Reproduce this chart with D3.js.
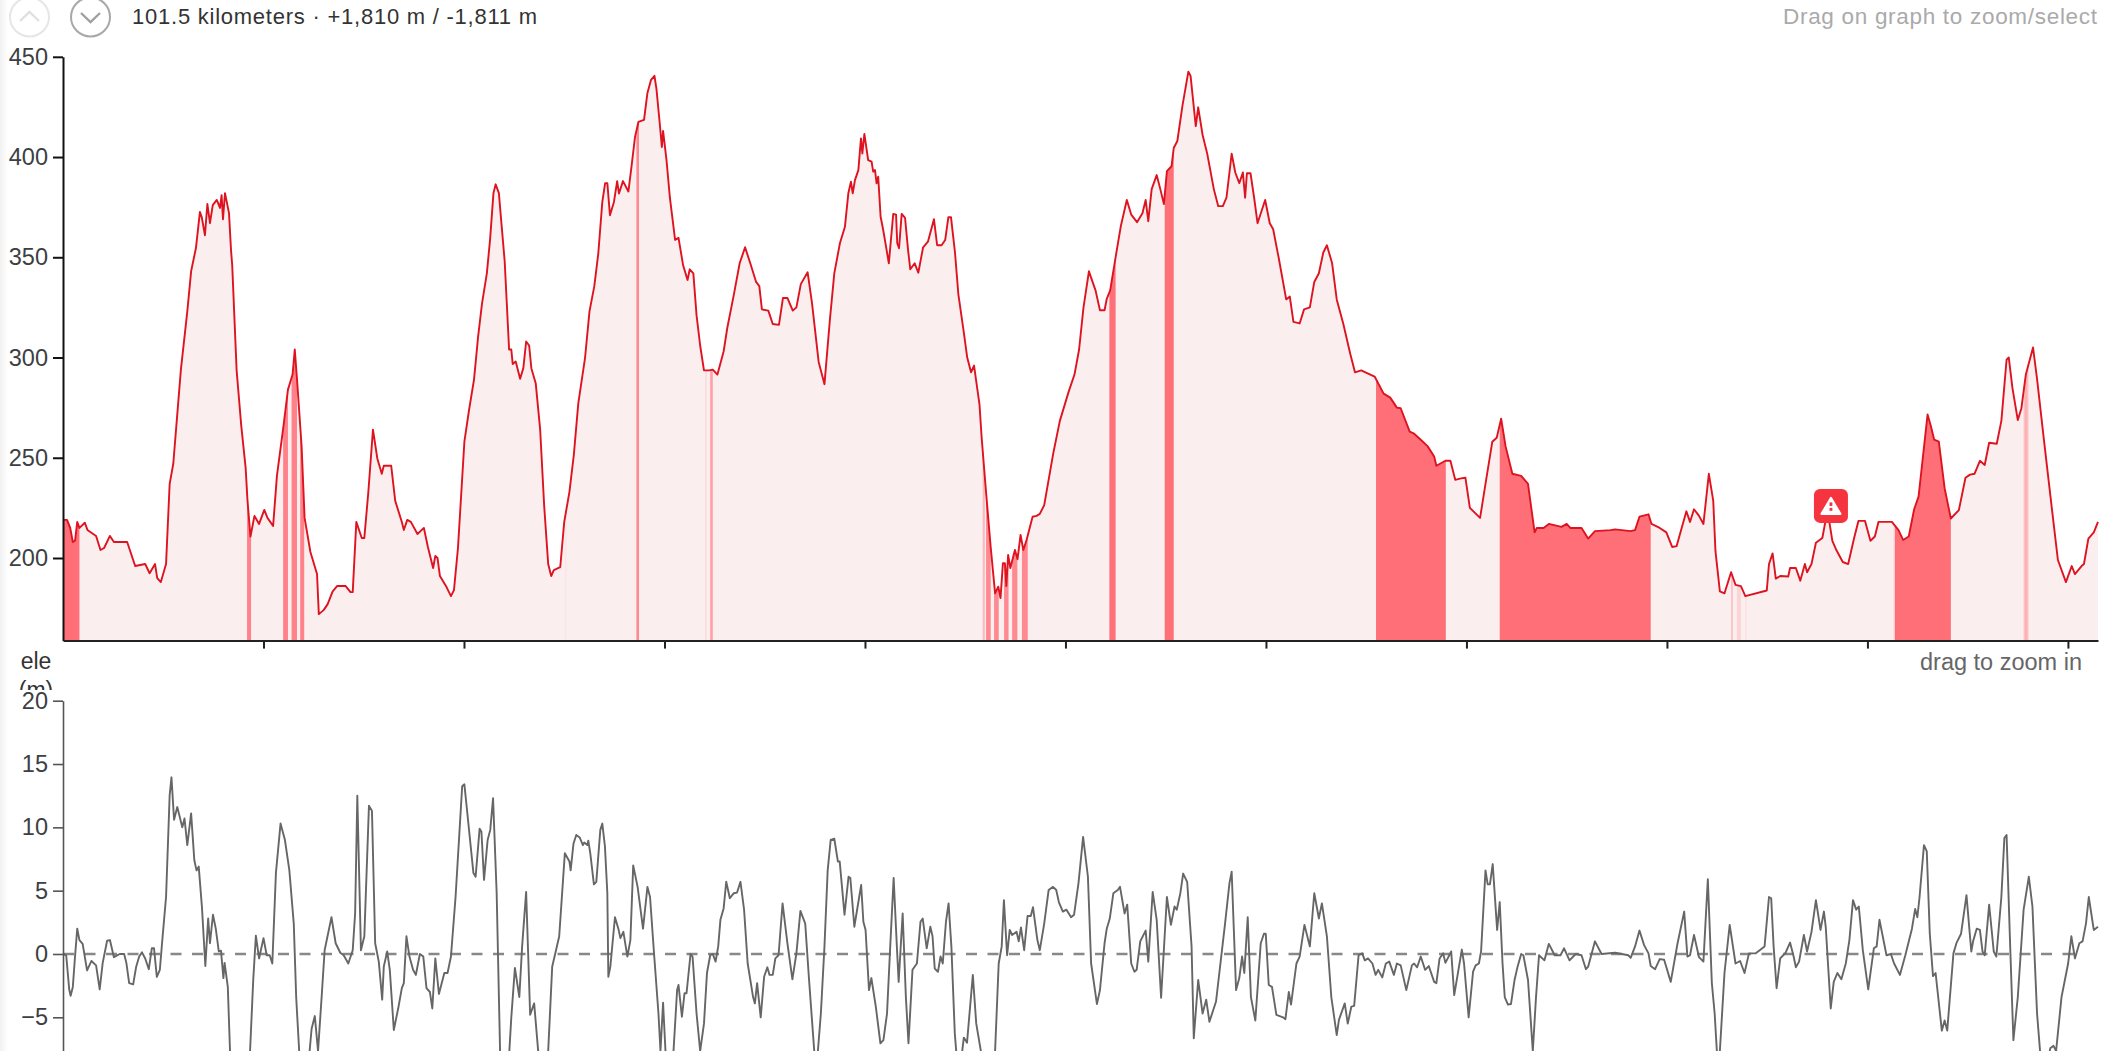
<!DOCTYPE html>
<html><head><meta charset="utf-8">
<script src="https://cdn.jsdelivr.net/npm/d3@7/dist/d3.min.js"></script>
<style>
html,body{margin:0;padding:0;background:#fff;overflow:hidden}
svg{display:block}
text{font-family:"Liberation Sans",Arial,sans-serif}
</style></head><body><svg id="c" width="2102" height="1051"></svg>
<script>
const summaryText="101.5 kilometers · +1,810 m / -1,811 m";
const hintText="Drag on graph to zoom/select";
const brushText="drag to zoom in";
const elevTicks=[200,250,300,350,400,450];
const gradeTicks=[-5,0,5,10,15,20];
const kmTicks=[10,20,30,40,50,60,70,80,90,100];
const totalKm=101.5;
// [km, metres]
const elevation=[[0,219],[.2,219],[.36,215],[.49,208],[.6,208.6],[.71,218],[.82,215],[1.09,217.6],[1.22,214],[1.65,211],[1.87,204],[2.05,205],[2.34,211],[2.54,208],[3.2,208],[3.6,196],[4.1,197],[4.32,192.4],[4.59,197],[4.7,190],[4.88,188],[5.14,197],[5.32,237],[5.5,247],[5.88,294],[6.2,323],[6.39,343],[6.63,354.6],[6.83,372.6],[6.92,370],[7.08,361],[7.2,376.6],[7.33,367],[7.47,376],[7.67,378.6],[7.83,374.6],[7.91,381],[7.98,369],[8.08,382],[8.28,372],[8.38,353.6],[8.44,346],[8.66,293.6],[8.89,266],[9.11,245],[9.2,229],[9.35,210.7],[9.55,221],[9.78,217],[10.04,224],[10.2,220],[10.48,216],[10.67,241],[11,266],[11.22,284],[11.45,291.5],[11.56,304],[11.67,289.4],[11.9,255.8],[12.05,220],[12.34,203],[12.67,192],[12.76,172],[13,174],[13.2,177],[13.45,183.4],[13.67,186],[14.1,186],[14.34,183],[14.45,183],[14.63,218],[14.9,210],[15.03,210],[15.23,233],[15.46,264],[15.68,249.5],[15.9,242],[16,246],[16.37,246],[16.57,228.5],[16.9,218],[17,214],[17.17,219],[17.35,218],[17.68,212],[18,215],[18.2,205.5],[18.46,195],[18.57,201],[18.68,200],[18.8,191],[19.13,185.5],[19.35,181],[19.5,184],[19.7,205],[20.02,258],[20.25,273.7],[20.5,289],[20.7,310],[20.9,327],[21.14,342],[21.3,358.7],[21.47,382],[21.58,386.4],[21.74,382],[21.85,369],[22.03,348],[22.25,304],[22.36,304],[22.43,296.8],[22.58,298],[22.8,289.4],[22.96,294.7],[23.1,308],[23.25,306],[23.36,294.7],[23.58,287],[23.8,264],[24,226],[24.2,197],[24.35,191],[24.48,194],[24.8,195.4],[25,218],[25.26,233],[25.48,251.6],[25.7,277],[26.04,300],[26.26,323],[26.5,335.6],[26.7,352],[26.9,377.6],[27.04,387],[27.15,387],[27.28,371],[27.48,377.6],[27.64,388],[27.73,381.8],[27.93,388],[28.2,382.8],[28.37,396.5],[28.53,410],[28.7,417.5],[28.98,418.5],[29.15,432],[29.33,438.5],[29.5,440.5],[29.6,434],[29.78,415],[29.87,405],[29.93,413],[30.1,398.6],[30.27,379.7],[30.53,358.7],[30.7,359.7],[30.93,346],[31.15,338.7],[31.26,344],[31.44,342],[31.6,321],[31.78,306],[31.97,293.6],[32.24,293.6],[32.41,294],[32.64,291.5],[32.95,303],[33.13,314.6],[33.46,331.4],[33.75,347],[34.02,355],[34.28,347],[34.57,337.7],[34.73,335.6],[34.86,324],[35.18,323.4],[35.4,316.7],[35.71,316.3],[35.91,329.7],[36.13,329.7],[36.4,323.4],[36.58,325],[36.8,336.6],[37.14,342.5],[37.36,327],[37.69,297.8],[37.98,286.7],[38.25,318.8],[38.47,342],[38.75,357],[39,365.2],[39.17,381.9],[39.3,387.7],[39.39,381.9],[39.5,388.5],[39.67,393.5],[39.8,409.3],[39.87,401.8],[39.97,411.5],[40.16,398.5],[40.33,397.7],[40.41,392.7],[40.5,393.5],[40.58,386.9],[40.66,390.2],[40.78,370.2],[40.91,363.6],[41.08,353.6],[41.19,347],[41.41,371.6],[41.55,371.3],[41.61,357],[41.7,354.5],[41.83,371.6],[42,369.6],[42.15,353.6],[42.26,344],[42.48,347],[42.66,342.3],[42.9,355],[43.14,357.8],[43.44,369],[43.6,356],[43.82,356],[44,358.6],[44.16,370],[44.29,370],[44.49,352.4],[44.66,331.4],[44.93,312.5],[45.1,300],[45.29,292.6],[45.44,296],[45.71,276.8],[45.82,260],[46.04,232.7],[46.27,205.5],[46.49,182.4],[46.65,185.7],[46.76,180],[46.88,197.4],[46.98,197.4],[47.05,186],[47.14,201.5],[47.25,195],[47.48,204],[47.61,199.4],[47.76,211.5],[47.9,204],[48.06,209],[48.36,220.6],[48.56,221],[48.72,222],[48.94,226.4],[49.38,251.6],[49.72,268.4],[50.16,283],[50.45,291.5],[50.68,304],[50.9,325],[51.17,343],[51.5,333.5],[51.72,323.6],[51.95,323.6],[52.06,329.3],[52.23,333.5],[52.5,350],[52.77,366],[53.06,378.6],[53.28,371.3],[53.57,367.5],[53.84,372],[54,378.6],[54.13,368],[54.3,384],[54.55,391],[54.73,384],[54.91,376.5],[55.06,393],[55.29,395.4],[55.4,404.5],[55.58,408],[55.84,425.9],[56.13,442.6],[56.24,440.5],[56.5,415.4],[56.62,424.8],[56.84,411],[57.07,401.7],[57.4,384],[57.62,375.5],[57.85,375.5],[58.03,379.7],[58.29,401.7],[58.47,392.3],[58.67,387],[58.85,392.3],[58.96,379.7],[59.05,391.9],[59.23,391.9],[59.41,379.7],[59.58,367],[59.96,378.6],[60.19,367],[60.36,364],[60.63,350],[61.01,329],[61.19,330.4],[61.37,317.8],[61.68,317],[61.9,324],[62.19,325],[62.41,337.7],[62.64,342],[62.86,352.4],[63.04,356],[63.3,347],[63.53,329],[63.86,316.7],[64.2,302],[64.44,292.6],[64.75,293.6],[65.42,290.5],[65.87,282],[66.2,280],[66.53,275],[66.72,274.7],[67.17,263],[67.39,262],[67.72,259],[68.06,255.8],[68.39,250.6],[68.5,246],[68.95,248.5],[69.2,248.5],[69.44,239],[69.73,239.7],[69.95,240],[70.17,225],[70.68,220],[70.95,237],[71.29,258],[71.51,260],[71.73,269.5],[71.95,255.8],[72.29,242],[72.73,241],[73.07,237],[73.4,212.8],[73.51,215],[73.85,215],[74.11,217],[74.74,215.5],[75,217],[75.18,215],[75.74,215],[76.07,209.7],[76.41,213.4],[77.19,213.9],[77.41,214.3],[78.19,213.4],[78.41,213.9],[78.63,220.6],[79.08,221.8],[79.23,217],[79.64,215],[79.97,212.8],[80.26,205.5],[80.48,205.9],[80.97,223.3],[81.15,218],[81.35,224.3],[81.6,221],[81.82,217],[82.09,242],[82.31,228.5],[82.42,203.4],[82.64,183.4],[82.87,182.4],[83.2,192.9],[83.42,186.6],[83.69,186],[83.91,181],[84.98,183.8],[85.09,197],[85.27,202.3],[85.43,189.7],[85.65,191],[86.05,190.8],[86.14,195],[86.43,195],[86.65,188.7],[86.88,197],[86.99,192.9],[87.21,197],[87.43,207.6],[87.75,210],[87.9,218],[88.02,228],[88.1,218],[88.25,208.5],[88.43,204.4],[88.77,198],[89.04,197],[89.33,209.7],[89.55,218.5],[89.88,218.5],[90.15,208.6],[90.37,210.7],[90.55,218],[90.88,218],[91.22,218],[91.55,213.9],[91.78,209],[92.06,210.7],[92.33,224.3],[92.55,230.6],[92.78,251.6],[93,271.6],[93.16,266],[93.33,259],[93.56,258],[93.85,234.8],[94.16,219.7],[94.56,223.9],[94.89,240],[95.12,241.6],[95.34,242],[95.61,248.5],[95.85,246.4],[96.07,257.5],[96.45,257],[96.68,268.4],[96.94,298.9],[97.05,300],[97.23,285],[97.5,268.8],[97.68,274.7],[97.9,291.5],[98.26,305],[98.46,289.4],[98.79,260],[99.13,230.6],[99.5,199],[99.9,188],[100.19,196],[100.35,192],[100.68,196],[100.8,197],[101.02,209.7],[101.29,212.8],[101.5,218]];
// [km, grade]
const grade=[[0,0],[.16,-.1],[.31,-2.8],[.38,-3.3],[.49,-2.6],[.6,-.2],[.71,2],[.82,1.1],[.98,.8],[1.2,-1.3],[1.42,-.55],[1.65,-.9],[1.83,-2.8],[1.98,-.7],[2.2,1.05],[2.34,1.1],[2.54,-.25],[2.83,0],[3.05,0],[3.16,-.7],[3.3,-2.3],[3.5,-2.4],[3.65,-1],[3.8,-.2],[3.94,.13],[4.1,-.35],[4.28,-1.2],[4.43,.45],[4.54,.45],[4.68,-1.8],[4.83,-1.25],[4.94,.85],[5.14,4.5],[5.32,12.55],[5.41,13.95],[5.54,10.6],[5.7,11.6],[5.95,10],[6.06,10.7],[6.2,8.6],[6.39,11.1],[6.55,7.4],[6.66,6.6],[6.77,6.9],[6.93,3.7],[7.1,-.95],[7.24,2.8],[7.33,.85],[7.48,3.1],[7.62,2],[7.77,.2],[7.88,.26],[8,-1.9],[8.06,-.7],[8.22,-2.6],[8.33,-7.66],[8.55,-12.6],[9.1,-12.6],[9.33,-7.66],[9.49,-2],[9.62,1.45],[9.78,-.35],[10,1.25],[10.16,-.1],[10.31,-.1],[10.44,-.75],[10.62,6.4],[10.85,10.3],[11.07,9],[11.29,6.6],[11.51,2.4],[11.63,-3.4],[11.78,-7.66],[12,-10],[12.3,-7.66],[12.4,-5.9],[12.56,-4.9],[12.72,-7.66],[12.9,-3.4],[13.05,.3],[13.39,2.9],[13.6,.85],[13.83,.1],[14,-.1],[14.23,-.75],[14.45,.3],[14.57,3.2],[14.68,12.5],[14.86,.3],[15.03,1.4],[15.26,11.7],[15.41,11.3],[15.57,.85],[15.75,-.6],[15.92,-3.6],[16,-1],[16.17,.2],[16.3,-1.25],[16.5,-6],[16.73,-4.2],[16.9,-2.7],[17,-2.3],[17.13,1.4],[17.28,-.2],[17.46,-1.25],[17.6,-1.65],[17.8,0],[17.97,-.2],[18.13,-2.7],[18.3,-3],[18.42,-4.3],[18.57,-.35],[18.75,-3.15],[19.02,-1.5],[19.18,-1.5],[19.35,-.2],[19.58,4.5],[19.91,13.25],[20.02,13.4],[20.2,10.6],[20.47,6.4],[20.58,6.1],[20.78,9.9],[20.87,9.65],[21,5.85],[21.18,9],[21.31,9.8],[21.45,12.3],[21.63,4.8],[21.8,-7.66],[22.14,-11],[22.36,-5],[22.54,-1.1],[22.76,-3.4],[22.9,.6],[23.1,4.9],[23.3,-4.8],[23.5,-3.9],[23.7,-7.66],[24,-10],[24.2,-7.66],[24.4,-1],[24.75,1.4],[25.03,7.95],[25.26,7.3],[25.32,6.6],[25.46,8.7],[25.6,9.4],[25.77,9.2],[25.93,8.6],[26,8.8],[26.15,8.6],[26.2,8.95],[26.3,7.95],[26.48,5.5],[26.6,5.7],[26.8,9.8],[26.9,10.3],[27.03,8.5],[27.15,4.8],[27.2,-1.8],[27.3,-1],[27.53,2.9],[27.7,2],[27.8,1.25],[27.95,1.75],[28.15,-.2],[28.3,1.1],[28.44,7],[28.66,5.3],[28.93,2],[29.15,5.3],[29.28,4.5],[29.49,-.2],[29.7,-4.7],[29.8,-7.66],[29.93,-3.85],[30.05,-7.66],[30.27,-10],[30.45,-7.66],[30.63,-2.85],[30.7,-2.45],[30.87,-4.95],[31,-3.1],[31.1,-3.1],[31.3,0],[31.4,-.2],[31.6,-4.7],[31.78,-7.66],[31.97,-5.5],[32.12,-1.5],[32.28,-.1],[32.41,0],[32.55,-.6],[32.68,.6],[32.79,2.7],[32.95,3.6],[33.08,5.7],[33.26,4.4],[33.46,4.8],[33.62,4.85],[33.79,5.7],[33.97,3.5],[34.15,-.75],[34.42,-3.4],[34.51,-3.9],[34.62,-2.3],[34.8,-5],[34.97,-1.8],[35.13,-1.05],[35.24,-1.65],[35.4,-1.65],[35.53,-.35],[35.69,-.1],[35.89,4],[36.13,.85],[36.38,-2],[36.58,.05],[36.78,3.4],[37.02,2.4],[37.2,-1.8],[37.47,-7.66],[37.63,-8.1],[37.8,-4.7],[37.98,.6],[38.14,6.6],[38.29,9],[38.47,9.1],[38.65,7.3],[38.74,7.3],[38.98,3.1],[39.18,6.1],[39.27,6],[39.47,2.15],[39.81,5.45],[39.92,2.55],[40.03,1.9],[40.2,-2.85],[40.32,-1.9],[40.54,-4.15],[40.77,-7.05],[40.92,-6.8],[41.1,-4.7],[41.26,.6],[41.43,6],[41.59,.6],[41.68,-2.2],[41.88,3.2],[42.04,-3.4],[42.17,-7.05],[42.37,-1.25],[42.59,-.75],[42.77,2.55],[42.88,2.8],[43.08,.45],[43.26,2.15],[43.37,1.4],[43.48,-1.15],[43.64,-1.4],[43.77,-.2],[43.88,-.75],[44.04,2.55],[44.17,4],[44.31,.6],[44.48,-6.25],[44.55,-7.66],[44.75,-9],[44.93,-6.6],[45.09,-7],[45.38,-1.65],[45.55,-5.5],[45.78,-7.66],[46.15,-11],[46.49,-7.66],[46.67,-.75],[46.82,.6],[46.93,4.25],[47.09,-.1],[47.22,1.9],[47.34,1.5],[47.56,1.75],[47.67,1],[47.78,2.1],[47.94,.3],[48.11,3],[48.27,3],[48.38,3.7],[48.6,1.1],[48.72,.3],[48.94,2.4],[49.16,5.05],[49.38,5.3],[49.54,5.05],[49.67,4.1],[49.87,3.35],[50.05,3.5],[50.28,2.9],[50.43,3.1],[50.65,5.6],[50.88,9.25],[51.12,6.1],[51.28,-.75],[51.57,-3.95],[51.72,-2.85],[51.95,.85],[52.06,2],[52.21,2.8],[52.39,4.8],[52.61,5.05],[52.72,5.3],[52.95,3.2],[53.08,3.9],[53.28,-.75],[53.44,-1.4],[53.55,-1.25],[53.73,1],[54,1.85],[54.13,-.6],[54.35,4.9],[54.55,2.7],[54.77,-3.45],[55.06,4.5],[55.26,2.3],[55.44,3.75],[55.55,3.5],[55.73,4.8],[55.87,6.35],[56.07,5.7],[56.29,.6],[56.4,-6.65],[56.62,-2.05],[56.84,-4.7],[57.02,-3.6],[57.18,-5.35],[57.51,-3.75],[57.96,2.4],[58.18,5.6],[58.29,6.5],[58.51,-2.85],[58.67,-1.9],[58.81,-.2],[58.92,-1.5],[59.09,2.9],[59.25,-3.4],[59.47,-5.25],[59.74,.85],[59.9,1.6],[59.99,1.6],[60.14,-2.45],[60.3,-2.6],[60.52,-4.8],[60.85,-5],[60.97,-5.15],[61.14,-3],[61.25,-4],[61.52,-.75],[61.68,-.2],[61.92,2.3],[62.19,.6],[62.41,4.8],[62.64,2.8],[62.79,4],[63.04,1.4],[63.26,-3.4],[63.53,-6.4],[63.64,-5.2],[63.93,-3.9],[64.08,-5.5],[64.26,-4.15],[64.4,-4.1],[64.62,-.1],[64.8,.05],[64.93,-.5],[65.09,-.35],[65.31,-.75],[65.47,-1.65],[65.6,-1.25],[65.8,-1.85],[65.98,-.75],[66.15,-.6],[66.38,-1.65],[66.53,-.75],[66.72,-.9],[67,-2.85],[67.28,-.9],[67.39,-.75],[67.54,-1.05],[67.72,-.2],[67.94,-1.25],[68.12,-.95],[68.39,-2.2],[68.5,-2.3],[68.66,-.35],[68.84,.05],[68.95,-.7],[69.24,.2],[69.39,-3.25],[69.77,.35],[69.88,-.75],[70.11,-5],[70.33,-1.4],[70.46,-.9],[70.62,-.75],[70.73,.2],[70.95,6.6],[71.06,5.5],[71.17,5.5],[71.31,7.1],[71.53,1.9],[71.66,4.1],[71.8,-.75],[71.91,-3.4],[72.07,-4],[72.22,-3.95],[72.4,-2.05],[72.55,-1],[72.73,0],[72.84,-.1],[73.07,-2.05],[73.31,-7.66],[73.47,-3.4],[73.62,-.1],[73.89,-.5],[74.11,.8],[74.4,-.1],[74.69,-.1],[74.87,.45],[75.14,-.5],[75.45,0],[75.74,-.1],[75.96,-1.2],[76.07,-1],[76.41,1],[76.74,0],[77.41,.1],[78.08,-.1],[78.19,-.3],[78.41,.6],[78.63,1.85],[78.86,.7],[79.08,.05],[79.19,-.95],[79.41,-1.2],[79.64,-.4],[79.86,-.45],[80.19,-2.2],[80.53,.85],[80.86,3.35],[81.02,-.2],[81.15,-.1],[81.35,1.5],[81.6,-.25],[81.82,-.6],[82.04,5.9],[82.24,-2.3],[82.38,-4.7],[82.49,-7.66],[82.56,-9],[82.64,-7.66],[82.87,-1.5],[83.13,2.3],[83.42,-.75],[83.65,-.55],[83.87,-1.5],[84.09,.05],[84.43,.05],[84.87,.6],[85.09,4.5],[85.2,4.4],[85.32,.6],[85.47,-2.7],[85.65,-.35],[85.92,.1],[86.14,.9],[86.32,-.2],[86.43,-1.05],[86.59,-.6],[86.83,1.5],[86.99,.2],[87.21,1.75],[87.43,4.25],[87.66,1.9],[87.83,3.35],[87.92,2.15],[88.17,-4.3],[88.32,-2.2],[88.5,-1.5],[88.7,-2],[88.92,-.75],[89.1,1.1],[89.28,4.25],[89.44,3.5],[89.57,3.75],[89.77,.3],[90.04,-2.8],[90.32,.45],[90.46,.6],[90.6,2.7],[90.95,-.1],[91.17,0],[91.33,-.75],[91.62,-1.65],[91.89,-.1],[92.22,2],[92.38,3.55],[92.49,2.9],[92.6,4.5],[92.82,8.6],[92.96,8.1],[93.11,1.6],[93.27,-1.75],[93.4,-1.5],[93.71,-6.05],[93.85,-5.25],[93.98,-6.05],[94.29,.05],[94.45,.9],[94.67,1.6],[94.94,4.65],[95.18,.2],[95.27,1],[95.45,2],[95.61,1.9],[95.74,.2],[95.85,-.1],[96.07,3.9],[96.3,.2],[96.43,-.2],[96.68,4.5],[96.83,9.15],[96.94,9.4],[97.12,.6],[97.28,-6.8],[97.5,-3.4],[97.79,3.5],[98.05,6.1],[98.23,3.75],[98.46,-4.7],[98.61,-7.66],[98.79,-10],[99.12,-7.45],[99.28,-7.25],[99.41,-7.66],[99.68,-3.4],[100.01,-.75],[100.17,1.4],[100.35,-.35],[100.57,.85],[100.73,1],[100.9,2.4],[101.04,4.5],[101.29,1.9],[101.5,2.15]];
// highlighted stretches: [start km, end km, strength]
const segments=[[0,.82,1],[9.18,9.38,.85],[10.98,11.22,.85],[11.4,11.67,.85],[11.83,12.03,.85],[25.06,25.1,.12],[28.6,28.73,.8],[32.04,32.1,.2],[32.28,32.41,.6],[45.87,45.98,.4],[46.04,46.27,.8],[46.44,46.67,.8],[46.94,47.16,.8],[47.34,47.6,.8],[47.83,48.12,.8],[52.19,52.5,1],[54.95,55.4,1],[65.49,68.97,1],[71.66,79.19,1],[83.2,83.29,.35],[83.49,83.69,.2],[83.92,83.97,.15],[91.3,91.37,.2],[91.37,94.16,1],[97.79,98.03,.35],[97.85,97.97,.2]];
const warningKm=88.18;
const warningElev=226;

const svg=d3.select("#c");
const defs=svg.append("defs");
const grad=defs.append("linearGradient").attr("id","edge");
grad.append("stop").attr("offset",0).attr("stop-color","#f1f1f1");
grad.append("stop").attr("offset",1).attr("stop-color","#fff");
svg.append("rect").attr("width",8).attr("height",1051).attr("fill","url(#edge)");

const x=d3.scaleLinear().domain([0,totalKm]).range([63,2098]);
const y=d3.scaleLinear().domain([158.8,450]).range([640.6,56.8]);
const y2=d3.scaleLinear().domain([0,20]).range([954,700.7]);

const areaGen=d3.area().x(d=>x(d[0])).y0(y(158.8)).y1(d=>y(d[1]));
const lineGen=d3.line().x(d=>x(d[0])).y(d=>y(d[1]));
defs.append("clipPath").attr("id","under").append("path").attr("d",areaGen(elevation));
svg.append("path").attr("d",areaGen(elevation)).attr("fill","#fbeeee");
svg.append("g").attr("clip-path","url(#under)").selectAll("rect").data(segments).join("rect")
 .attr("x",d=>x(d[0])).attr("width",d=>x(d[1])-x(d[0])).attr("y",y(450)).attr("height",y(158.8)-y(450))
 .attr("fill","#ff6f78").attr("opacity",d=>d[2]);
svg.append("path").attr("d",lineGen(elevation)).attr("fill","none").attr("stroke","#de1320").attr("stroke-width",1.9).attr("stroke-linejoin","round");

function style(g,col,w){g.select(".domain").attr("stroke",col).attr("stroke-width",w);g.selectAll(".tick line").attr("stroke",col).attr("stroke-width",w);
 g.selectAll("text").attr("font-size",23.5).attr("fill","#3c4043").style("font-family",'"Liberation Sans",Arial,sans-serif');}
const gy=svg.append("g").attr("transform","translate(63,0)").call(d3.axisLeft(y).tickValues(elevTicks).tickSize(10).tickPadding(5).tickSizeOuter(0));
style(gy,"#111",2);
const gx=svg.append("g").attr("transform","translate(0,640.6)").call(d3.axisBottom(x).tickValues(kmTicks).tickSize(8).tickFormat("").tickSizeOuter(0));
style(gx,"#222",2);

// lower panel
defs.append("clipPath").attr("id","page").append("rect").attr("x",63).attr("y",690).attr("width",2039).attr("height",361);
svg.append("line").attr("x1",x(0)).attr("x2",2081).attr("y1",y2(0)).attr("y2",y2(0))
 .attr("stroke","#888").attr("stroke-width",2.4).attr("stroke-dasharray","11,10.5");
const line2=d3.line().x(d=>x(d[0])).y(d=>y2(d[1]));
svg.append("path").attr("d",line2(grade)).attr("clip-path","url(#page)").attr("fill","none").attr("stroke","#666").attr("stroke-width",1.9).attr("stroke-linejoin","round");
const y2full=d3.scaleLinear().domain([20,-7.66]).range([700.7,1051]);
const gy2=svg.append("g").attr("transform","translate(63,0)").call(d3.axisLeft(y2full).tickValues(gradeTicks).tickSize(10).tickPadding(5).tickSizeOuter(0));
style(gy2,"#555",1.6);

// labels
defs.append("clipPath").attr("id","unit").append("rect").attr("x",0).attr("y",640).attr("width",70).attr("height",50);
const unit=svg.append("g").attr("clip-path","url(#unit)");
unit.append("text").attr("x",36).attr("y",669).attr("text-anchor","middle").attr("font-size",23).attr("fill","#333").text("ele");
unit.append("text").attr("x",36).attr("y",698).attr("text-anchor","middle").attr("font-size",23).attr("fill","#333").text("(m)");
svg.append("text").attr("x",2082).attr("y",670).attr("text-anchor","end").attr("font-size",23.5).attr("fill","#666").text(brushText);
svg.append("text").attr("x",132).attr("y",24).attr("font-size",22).attr("fill","#333").style("font-family",'"Liberation Sans",sans-serif').attr("textLength",405).text(summaryText);
svg.append("text").attr("x",2097).attr("y",24).attr("text-anchor","end").attr("font-size",22.5).attr("fill","#aaa").style("font-family",'"Liberation Sans",sans-serif').attr("textLength",314).text(hintText);

// buttons
[[29.5,"#e6e6e6","#e0e0e0","M20 21L29.5 12L39 21"],[90.5,"#a8a8a8","#a0a0a0","M81 13L90.5 22L100 13"]].forEach(b=>{
 svg.append("circle").attr("cx",b[0]).attr("cy",17).attr("r",19.5).attr("fill","#fff").attr("stroke",b[1]).attr("stroke-width",2);
 svg.append("path").attr("d",b[3]).attr("fill","none").attr("stroke",b[2]).attr("stroke-width",2.4);
});

// warning marker (placed by data value through the scales)
const wx=x(warningKm), wy=y(warningElev);
const mk=svg.append("g").attr("transform",`translate(${wx},${wy})`);
mk.append("rect").attr("x",-17).attr("y",-17).attr("width",34).attr("height",34).attr("rx",6).attr("fill","#f6343f");
mk.append("path").attr("d","M0 -8L9.5 8H-9.5Z").attr("fill","#fff").attr("stroke","#fff").attr("stroke-width",2).attr("stroke-linejoin","round");
mk.append("rect").attr("x",-1.4).attr("y",-3.5).attr("width",2.8).attr("height",3.6).attr("fill","#f6343f");
mk.append("rect").attr("x",-1.4).attr("y",2).attr("width",2.8).attr("height",3).attr("fill","#f6343f");
</script></body></html>
